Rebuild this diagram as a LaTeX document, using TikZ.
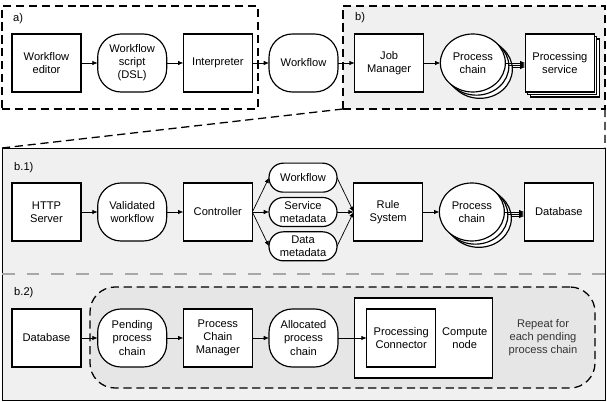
\documentclass[tikz,border=0pt]{standalone}
\usepackage{fontspec}
\setmainfont{Liberation Sans}
\usetikzlibrary{arrows.meta, positioning, shapes.geometric, shadows}
\definecolor{panelgray}{HTML}{F0F0F0}
\definecolor{loopgray}{HTML}{E6E6E6}
\definecolor{dividergray}{HTML}{A8A8A8}

\begin{document}
\begin{tikzpicture}[
    x=0.03cm, y=-0.03cm,
    font=\fontsize{9.5}{11.2}\selectfont,
    node distance=0.5cm,
    box/.style={draw, line width=1pt, fill=white, align=center, minimum width=2.07cm, minimum height=1.74cm, inner sep=1pt, outer sep=0pt},
    datum/.style={box, rounded corners=0.7cm},
    chainnode/.style={box, ellipse, minimum width=1.95cm,
        copy shadow={shadow xshift=0.21cm, shadow yshift=-0.19cm, fill=white, draw=black, line width=1pt},
        copy shadow={shadow xshift=0.105cm, shadow yshift=-0.095cm, fill=white, draw=black, line width=1pt}},
    stackbox/.style={box,
        copy shadow={shadow xshift=0.15cm, shadow yshift=-0.15cm, fill=white, draw=black, line width=1pt},
        copy shadow={shadow xshift=0.075cm, shadow yshift=-0.075cm, fill=white, draw=black, line width=1pt}},
    metanode/.style={box, minimum width=2.04cm, minimum height=0.87cm, rounded corners=0.43cm, inner sep=0pt},
    dashframe/.style={draw, line width=1.1pt, dash pattern=on 7pt off 4pt, anchor=north west, inner sep=0pt, outer sep=0pt},
    paneltag/.style={anchor=base west, inner sep=0pt},
    arrow/.style={-{Latex[length=4.5pt, width=3.8pt]}, line width=0.6pt},
    zoomline/.style={line width=1.1pt, dash pattern=on 7pt off 4pt},
    divider/.style={draw=dividergray, line width=1.2pt, dash pattern=on 11pt off 10pt}
]
\useasboundingbox (0,0) rectangle (607,402);

% frames
\node[dashframe, minimum width=7.68cm, minimum height=3.09cm] (fa) at (2,6) {};
\node[dashframe, fill=panelgray, minimum width=7.86cm, minimum height=3.09cm] (fb) at (343,6) {};
\node[draw, line width=0.8pt, fill=panelgray, anchor=north west, inner sep=0pt, outer sep=0pt, minimum width=18.09cm, minimum height=7.56cm] (fc) at (2,148) {};
\draw[zoomline] (fb.south west) -- (fc.north west);
\draw[zoomline] (fb.south east) -- (fc.north east);
\draw[divider] (fc.west |- 0,274) -- (fc.east |- 0,274);
\node[dashframe, fill=loopgray, rounded corners=0.75cm, minimum width=15.15cm, minimum height=3.03cm] (loop) at (90,287) {};

\node[paneltag] at (13,22) {a)};
\node[paneltag] at (355,21) {b)};
\node[paneltag] at (14,170.5) {b.1)};
\node[paneltag] at (14,296) {b.2)};

% a) and b)
\node[box] (editor) at (46.5,63) {Workflow\\editor};
\node[datum, right=of editor] (script) {Workflow\\script\\(DSL)};
\node[box, right=of script] (interp) {Interpreter};
\node[datum, right=of interp] (wf) {Workflow};
\node[box, right=of wf] (jobman) {Job\\Manager};
\node[chainnode, right=of jobman] (chainA) {Process\\chain};
\node[stackbox, right=0.6cm of chainA] (service) {Processing\\service};

\foreach \a/\b in {editor/script, script/interp, interp/wf, wf/jobman, jobman/chainA}
    \draw[arrow] (\a) -- (\b);
\foreach \s in {0,1,2}
    \draw[arrow] ([shift={(\s*0.1cm,-\s*0.06cm)}]chainA.east) -- ([yshift=-\s*0.06cm]service.west);

% b.1)
\node[box] (http) at (46.5,212) {HTTP\\Server};
\node[datum, right=of http] (valid) {Validated\\workflow};
\node[box, right=of valid] (ctrl) {Controller};
\node[metanode, right=of ctrl] (svcmeta) {Service\\metadata};
\node[metanode, above=0.16cm of svcmeta] (wfmeta) {Workflow};
\node[metanode, below=0.16cm of svcmeta] (datameta) {Data\\metadata};
\node[box, right=of svcmeta] (rules) {Rule\\System};
\node[chainnode, right=of rules] (chainB) {Process\\chain};
\node[box, right=0.6cm of chainB] (db) {Database};

\draw[arrow] (http) -- (valid);
\draw[arrow] (valid) -- (ctrl);
\foreach \m in {wfmeta, svcmeta, datameta} {
    \draw[arrow] (ctrl.east) -- (\m.west);
    \draw[arrow] (\m.east) -- (rules.west);
}
\draw[arrow] (rules) -- (chainB);
\foreach \s in {0,1,2}
    \draw[arrow] ([shift={(\s*0.1cm,-\s*0.06cm)}]chainB.east) -- ([yshift=-\s*0.06cm]db.west);

% b.2)
\node[box] (db2) at (46.5,338) {Database};
\node[datum, right=of db2] (pending) {Pending\\process\\chain};
\node[box, right=of pending] (pcm) {Process\\Chain\\Manager};
\node[datum, right=of pcm] (alloc) {Allocated\\process\\chain};
\node[box, minimum width=4.14cm, minimum height=2.4cm, right=of alloc] (compute) {};
\node[box, right=0.36cm of compute.west] (connector) {Processing\\Connector};
\node[right=2pt of connector, align=center] (computelbl) {Compute\\node};
\node[align=center, text=black!80] (repeat) at (543,338) {Repeat for\\each pending\\process chain};

\foreach \a/\b in {db2/pending, pending/pcm, pcm/alloc, alloc/connector}
    \draw[arrow] (\a) -- (\b);
\end{tikzpicture}
\end{document}
